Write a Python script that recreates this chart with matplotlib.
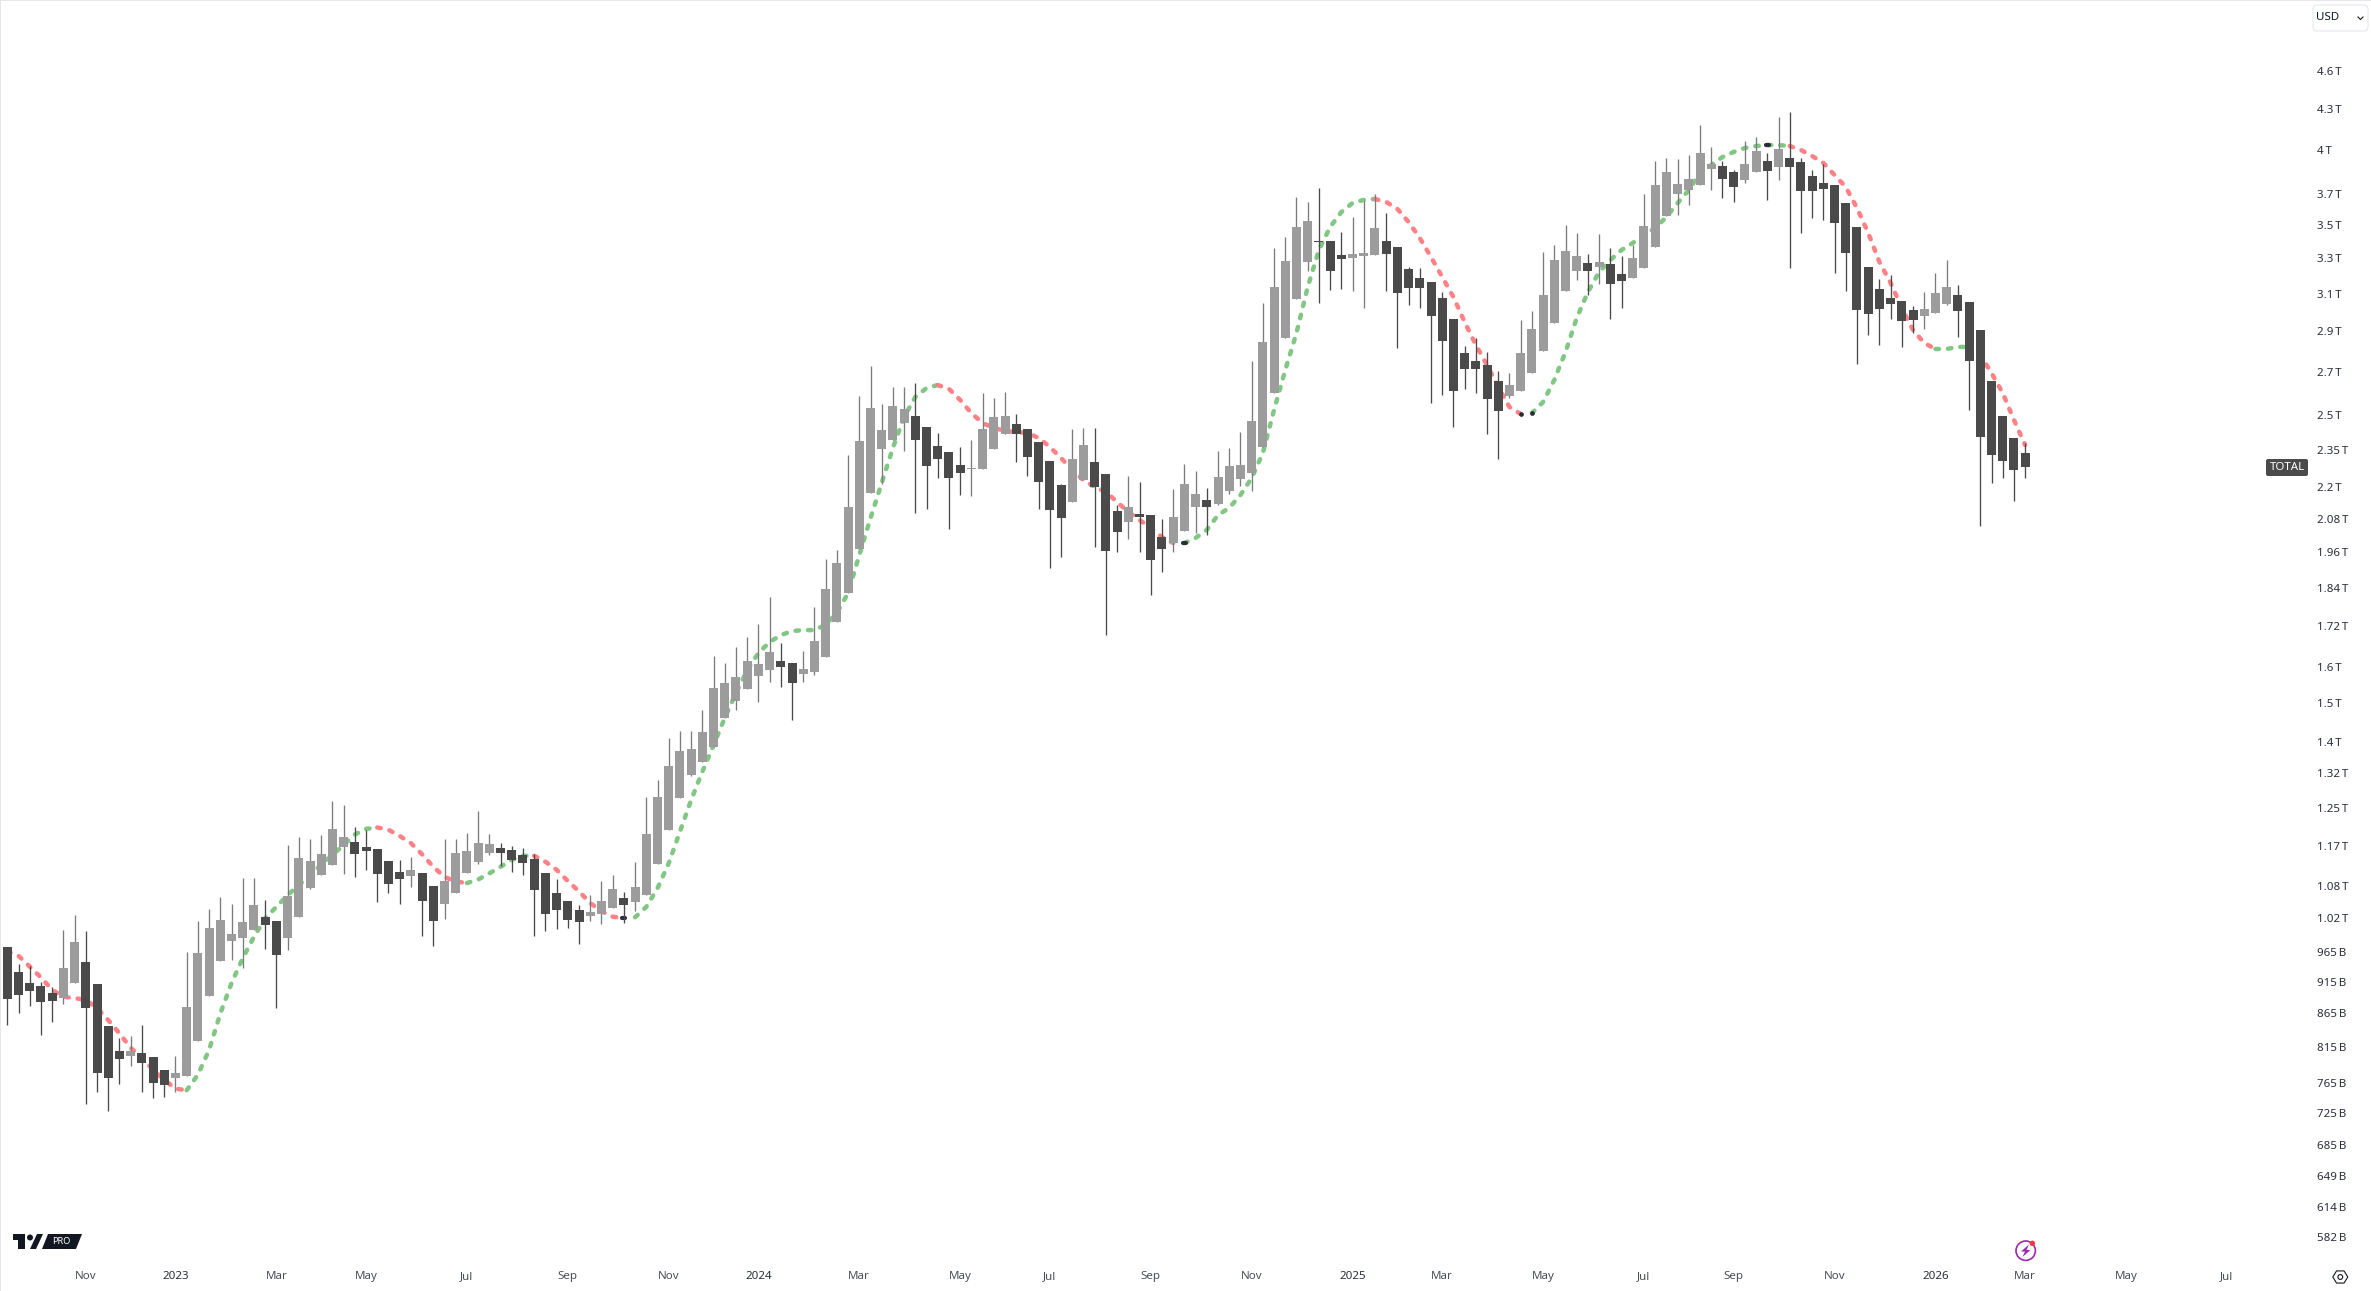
import matplotlib
matplotlib.use("Agg")
import numpy as np
import pandas as pd
import matplotlib.pyplot as plt
import matplotlib.dates as mdates
from matplotlib.patches import Circle, FancyBboxPatch, Polygon, Rectangle

plt.rcParams['font.family'] = ['Noto Sans', 'DejaVu Sans']

# weekly candles, prices in billions
first_week = '2022-09-19'
high = [973,944,941,915,907,1003,1030,1001,911,846,
828,831,848,801,783,802,965,1019,1041,1063,
1050,1100,1100,1058,1019,1166,1183,1179,1187,1261,
1252,1204,1198,1158,1134,1136,1142,1110,1084,1179,
1179,1191,1239,1189,1170,1164,1160,1148,1110,1098,
1056,1048,1067,1094,1106,1073,1132,1270,1309,1410,
1427,1427,1482,1630,1610,1657,1686,1726,1810,1668,
1610,1645,1778,1936,1968,2328,2585,2726,2549,2627,
2627,2646,2447,2421,2341,2362,2391,2599,2576,2604,
2504,2438,2383,2304,2212,2438,2443,2443,2251,2131,
2243,2220,2093,2079,2192,2292,2263,2196,2345,2358,
2425,2751,3049,3361,3427,3679,3647,3738,3403,3458,
3551,3653,3699,3576,3367,3250,3244,3164,3109,2963,
2825,2865,2795,2702,2693,2958,3006,3337,3379,3501,
3452,3325,3445,3361,3314,3379,3699,3922,3942,3935,
3963,4180,4020,3922,3859,4063,4092,3978,4240,4277,
3942,3859,3901,3758,3640,3488,3250,3181,3204,3060,
3033,3109,3215,3290,3148,3054,2906,2655,2495,2400,
2379]
low = [848,866,877,833,852,880,913,737,753,728,
763,788,753,745,746,753,774,824,892,949,
951,938,1003,970,873,968,1026,1079,1106,1126,
1108,1102,1116,1054,1071,1050,1082,992,975,1023,
1071,1110,1128,1146,1124,1112,1106,992,1001,1005,
1007,978,1019,1014,1043,1016,1037,1067,1128,1198,
1268,1318,1351,1387,1461,1482,1538,1503,1557,1543,
1455,1557,1576,1628,1732,1823,1971,2177,2212,2391,
2345,2101,2116,2235,2042,2169,2165,2271,2353,2417,
2300,2243,2116,1906,1943,2142,2227,1978,1692,1961,
2006,1961,1817,1892,1961,2035,2028,2021,2131,2173,
2204,2184,2362,2599,2865,3070,3227,3049,3120,3125,
3114,3022,3320,3114,2815,3038,3022,2553,2590,2447,
2618,2599,2417,2312,2576,2608,2693,2800,2942,3114,
3176,3092,3153,2963,3022,3187,3244,3367,3557,3563,
3627,3758,3725,3673,3647,3772,3846,3660,3792,3244,
3452,3545,3532,3215,3114,2736,2881,2830,2963,2820,
2891,2911,2995,3038,2870,2522,2053,2216,2235,2146,
2235]
open_ = [973,931,913,908,897,889,913,948,911,846,
809,802,806,801,783,772,774,824,892,949,
984,989,1003,1026,1019,989,1026,1081,1106,1126,
1162,1172,1162,1158,1134,1112,1104,1110,1084,1050,
1071,1110,1132,1150,1160,1156,1146,1138,1110,1071,
1056,1039,1028,1032,1043,1062,1054,1067,1128,1198,
1268,1320,1351,1387,1461,1505,1538,1574,1590,1616,
1610,1579,1585,1628,1732,1823,1971,2177,2353,2391,
2464,2495,2447,2366,2341,2288,2271,2271,2353,2417,
2460,2438,2383,2304,2208,2142,2227,2300,2251,2108,
2068,2097,2093,2013,1992,2035,2123,2150,2135,2184,
2231,2255,2362,2599,2865,3070,3279,3403,3403,3320,
3302,3314,3320,3403,3367,3238,3187,3164,3076,2963,
2790,2751,2731,2655,2585,2608,2693,2800,2942,3114,
3227,3273,3250,3267,3210,3187,3244,3367,3557,3699,
3725,3758,3866,3887,3846,3792,3846,3922,3880,3942,
3915,3819,3772,3758,3640,3488,3250,3125,3076,3060,
3011,2979,2995,3043,3092,3054,2906,2655,2495,2400,
2337]
close = [888,894,900,883,884,938,982,873,778,772,
798,809,792,765,762,778,875,963,1007,1021,
996,1017,1048,1012,960,1065,1140,1134,1148,1200,
1183,1148,1154,1108,1088,1098,1116,1056,1019,1094,
1150,1154,1170,1168,1150,1136,1130,1077,1032,1039,
1021,1017,1036,1056,1079,1048,1082,1189,1270,1341,
1378,1382,1425,1540,1554,1571,1616,1607,1642,1599,
1554,1593,1674,1836,1923,2123,2387,2531,2434,2540,
2526,2391,2283,2312,2235,2255,2275,2438,2491,2495,
2417,2320,2220,2112,2082,2312,2370,2200,1964,2031,
2123,2086,1933,1971,2086,2212,2173,2123,2239,2283,
2288,2473,2845,3136,3284,3488,3526,3397,3227,3296,
3325,3331,3482,3325,3103,3131,3131,2979,2850,2608,
2712,2712,2572,2517,2636,2790,2911,3092,3290,3343,
3314,3227,3279,3153,3170,3302,3495,3758,3846,3765,
3798,3978,3901,3798,3745,3901,3992,3853,4006,3880,
3718,3718,3732,3513,3331,3011,2990,3016,3043,2953,
2958,3016,3103,3136,3006,2751,2404,2328,2304,2267,
2279]
line_value = [966,958,940,922,902,891,889,886,873,855,
835,814,799,783,769,757,755,776,811,865,
913,954,991,1024,1045,1067,1086,1106,1126,1146,
1166,1188,1200,1203,1198,1185,1170,1147,1122,1102,
1093,1090,1097,1109,1122,1136,1144,1144,1132,1116,
1094,1074,1052,1037,1027,1024,1026,1045,1080,1129,
1194,1263,1328,1392,1461,1527,1590,1639,1671,1692,
1704,1707,1707,1723,1760,1823,1950,2082,2216,2358,
2491,2581,2622,2636,2618,2567,2508,2464,2443,2430,
2425,2421,2400,2362,2316,2267,2227,2200,2181,2142,
2105,2075,2046,2013,1992,1992,2010,2039,2093,2120,
2169,2235,2337,2522,2707,2891,3136,3349,3488,3582,
3640,3660,3666,3647,3602,3520,3421,3308,3193,3081,
2948,2830,2731,2627,2535,2504,2508,2558,2660,2795,
2969,3109,3221,3290,3349,3391,3439,3482,3551,3640,
3725,3839,3894,3949,3985,4013,4027,4034,4034,4027,
3999,3956,3908,3825,3745,3608,3452,3279,3159,3022,
2906,2840,2810,2810,2820,2820,2780,2693,2599,2478,
2370]

# bar numbers where the line changes colour, and the odd dark marks at the turns
green_runs = [(16, 33), (41, 47), (56, 83), (105, 122), (136, 159), (172, 175)]
red_runs = [(0, 16), (33, 41), (47, 55), (83, 104), (122, 135), (159, 172), (175, 180)]
dark_dashes = [55, 105, 157]
dark_dots = [135, 136]

price_ticks = [4600,4300,4000,3700,3500,3300,3100,2900,2700,2500,2350,2200,2080,1960,1840,1720,1600,1500,1400,1325,1245,1165,1085,1025,
965,915,865,815,765,725,685,649,614,582]
price_labels = ['4.6\u2009T','4.3\u2009T','4\u2009T','3.7\u2009T','3.5\u2009T','3.3\u2009T','3.1\u2009T','2.9\u2009T','2.7\u2009T','2.5\u2009T','2.35\u2009T','2.2\u2009T','2.08\u2009T','1.96\u2009T','1.84\u2009T','1.72\u2009T','1.6\u2009T','1.5\u2009T','1.4\u2009T','1.32\u2009T','1.25\u2009T','1.17\u2009T','1.08\u2009T','1.02\u2009T',
'965\u2009B','915\u2009B','865\u2009B','815\u2009B','765\u2009B','725\u2009B','685\u2009B','649\u2009B','614\u2009B','582\u2009B']
time_ticks = ['2022-11-07','2023-01-02','2023-03-06','2023-05-01','2023-07-03','2023-09-04','2023-11-06','2024-01-01','2024-03-04','2024-05-06','2024-07-01','2024-09-02','2024-11-04','2025-01-06','2025-03-03','2025-05-05','2025-07-07','2025-09-01','2025-11-03','2026-01-05','2026-03-02','2026-05-04','2026-07-06']
time_labels = ['Nov','2023','Mar','May','Jul','Sep','Nov','2024','Mar','May','Jul','Sep','Nov','2025','Mar','May','Jul','Sep','Nov','2026','Mar','May','Jul']

W, H = 2371, 1291
UP = '#9c9c9c'
UP_WICK = '#7b7b7b'
DOWN = '#4a4a4a'
GREEN = '#81c784'
RED = '#ff8085'
DARK = '#2a2e39'

dates = pd.date_range(first_week, periods=len(close), freq='W-MON')
x = mdates.date2num(dates)

fig = plt.figure(figsize=(W/100, H/100), dpi=100, facecolor='white')
ax = fig.add_axes([0, 36/H, 2310/W, 1255/H])

# candles
high = np.array(high)
low = np.array(low)
open_ = np.array(open_)
close = np.array(close)
is_up = close >= open_
px_day = 11.21/7
ax.vlines(x, low, high, colors=[UP_WICK if u else DOWN for u in is_up], linewidth=0.95, zorder=3)
top = np.maximum(open_, close)
bottom = np.minimum(open_, close)
ax.bar(x, top-bottom, bottom=bottom, width=9/px_day, color=[UP if u else DOWN for u in is_up], linewidth=0, zorder=4)

# trend line sits behind the candles
line_value = np.array(line_value)
dash = (0, (0.78, 2.0))
for s, e in green_runs:
    ax.plot(x[s:e+1], line_value[s:e+1], color=GREEN, lw=3.24, linestyle=dash, dash_capstyle='round', zorder=2)
for s, e in red_runs:
    ax.plot(x[s:e+1], line_value[s:e+1], color=RED, lw=3.24, linestyle=dash, dash_capstyle='round', zorder=2)
for i in dark_dashes:
    ax.plot([x[i]-1, x[i]+1], [line_value[i], line_value[i]], color=DARK, lw=3.0, solid_capstyle='round', zorder=2.5)
ax.plot(x[dark_dots], line_value[dark_dots], 'o', color=DARK, ms=3.4, mew=0, zorder=2.5)

ax.set_yscale('log')
ax.set_ylim(4600*np.exp(-1184/564), 4600*np.exp(71/564))
ax.set_xlim(x[0]-7.33/px_day, x[0]-7.33/px_day+2310/px_day)
ax.minorticks_off()

ax.yaxis.tick_right()
ax.set_yticks(price_ticks, price_labels)
ax.tick_params(axis='y', which='both', length=0, pad=5, labelsize=8.3, labelcolor='#2a2e39')
ax.yaxis.set_minor_locator(plt.NullLocator())

ax.set_xticks(mdates.date2num(pd.to_datetime(time_ticks)), time_labels)
ax.tick_params(axis='x', length=0, pad=11.8, labelsize=8.3, labelcolor='#4a4e59')
for lab in ax.get_xticklabels():
    if lab.get_text().isdigit():
        lab.set_fontweight('bold')
        lab.set_color('#2a2e39')
for s in ax.spines.values():
    s.set_visible(False)

# screen furniture, in picture pixels
ui = fig.add_axes([0, 0, 1, 1], facecolor='none')
ui.set_xlim(0, W)
ui.set_ylim(H, 0)
ui.axis('off')
ui.add_patch(Rectangle((0, 0), 1.2, H, color='#e6e6e6', lw=0))
ui.add_patch(Rectangle((0, 0), W, 1.2, color='#e6e6e6', lw=0))

ui.add_patch(FancyBboxPatch((2268, 461), 38, 13, boxstyle='round,pad=2,rounding_size=2', fc=DOWN, ec='none'))
ui.text(2287, 468, 'TOTAL', color='white', fontsize=8.3, ha='center', va='center')

ui.add_patch(FancyBboxPatch((2316, 8), 49, 20, boxstyle='round,pad=3,rounding_size=4', fc='white', ec='#e6e8ee', lw=0.8))
ui.text(2316, 18, 'USD', color='#131722', fontsize=8.3, ha='left', va='center')
ui.plot([2358, 2360.5, 2363], [17, 19.5, 17], color='#131722', lw=0.8)

# tradingview mark
ui.add_patch(Polygon([(13,1234),(25,1234),(25,1249),(18,1249),(18,1240),(13,1240)], fc='#131722', ec='none'))
ui.add_patch(Circle((30,1237.5), 3, fc='#131722', ec='none'))
ui.add_patch(Polygon([(37,1234),(43,1234),(36,1249),(30,1249)], fc='#131722', ec='none'))
ui.add_patch(Polygon([(48,1234),(82,1234),(76,1249),(42,1249)], fc='#131722', ec='none'))
ui.text(61.5, 1241.5, 'PRO', color='white', fontsize=6.6, fontweight='bold', ha='center', va='center')

# bolt icon and settings icon
ui.add_patch(Circle((2025.7,1250.7), 9.7, fc='white', ec='#9c27b0', lw=1.2))
ui.add_patch(Polygon([(2029,1244.5),(2021,1251.5),(2025,1251.5),(2022.5,1257),(2030.5,1250),(2026.5,1250)], fc='#9c27b0', ec='none'))
ui.add_patch(Circle((2032.3,1243.3), 2.7, fc='#f23645', ec='none'))
a = np.radians(np.arange(0, 360, 60))
ui.add_patch(Polygon(np.c_[2340.3+7.5*np.cos(a), 1277+7*np.sin(a)], fc='none', ec='#131722', lw=0.8))
ui.add_patch(Circle((2340.3,1277), 2.4, fc='none', ec='#131722', lw=0.8))

fig.savefig('out.png', dpi=100)
